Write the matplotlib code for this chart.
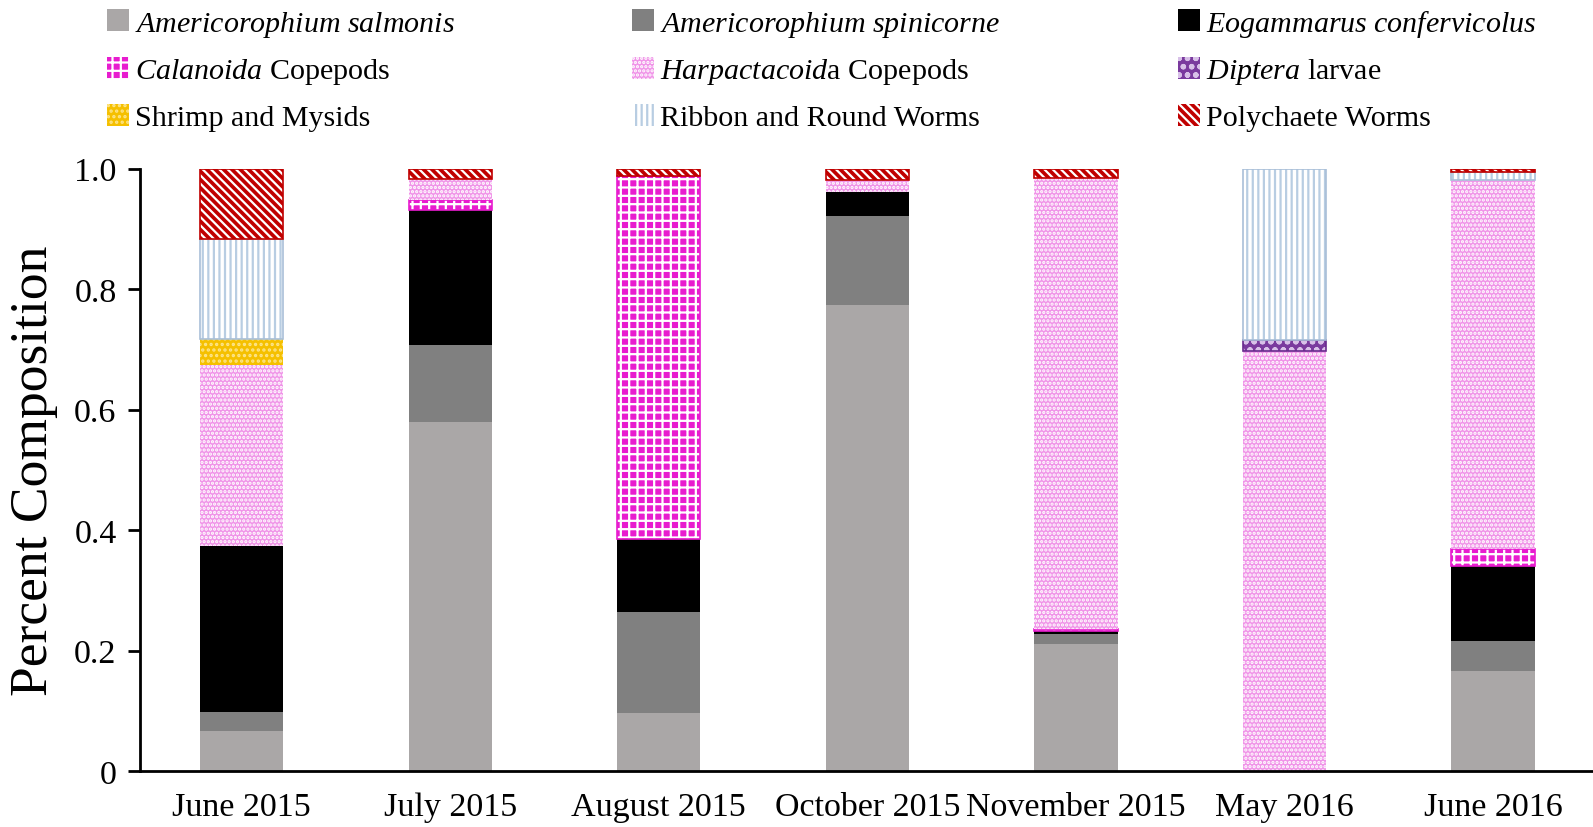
import matplotlib.pyplot as plt
import numpy as np

plt.rcParams['font.family'] = ['Liberation Serif', 'DejaVu Serif']
plt.rcParams['mathtext.fontset'] = 'custom'
plt.rcParams['mathtext.rm'] = 'Liberation Serif'
plt.rcParams['mathtext.it'] = 'Liberation Serif:italic'
plt.rcParams['hatch.linewidth'] = 1.6

# sampling months
months = ['June 2015', 'July 2015', 'August 2015', 'October 2015',
          'November 2015', 'May 2016', 'June 2016']

# fraction of diet per group, bottom of the stack first
salmonis      = [0.066, 0.580, 0.097, 0.774, 0.211, 0.000, 0.167]
spinicorne    = [0.032, 0.128, 0.167, 0.148, 0.017, 0.000, 0.049]
eogammarus    = [0.275, 0.223, 0.122, 0.039, 0.005, 0.000, 0.125]
calanoida     = [0.000, 0.017, 0.602, 0.000, 0.003, 0.000, 0.027]
harpactacoida = [0.301, 0.035, 0.000, 0.020, 0.748, 0.697, 0.614]
shrimp        = [0.044, 0.000, 0.000, 0.000, 0.000, 0.000, 0.000]
diptera       = [0.000, 0.000, 0.000, 0.000, 0.000, 0.018, 0.000]
ribbon        = [0.165, 0.000, 0.000, 0.000, 0.000, 0.285, 0.012]
polychaete    = [0.117, 0.017, 0.012, 0.019, 0.016, 0.000, 0.006]

labels = {
    'sal': r'$\mathit{Americorophium\ salmonis}$',
    'spi': r'$\mathit{Americorophium\ spinicorne}$',
    'eog': r'$\mathit{Eogammarus\ confervicolus}$',
    'cal': r'$\mathit{Calanoida}$ Copepods',
    'har': r'$\mathit{Harpactacoid}$a Copepods',
    'shr': 'Shrimp and Mysids',
    'dip': r'$\mathit{Diptera}$ larvae',
    'rib': 'Ribbon and Round Worms',
    'pol': 'Polychaete Worms',
}

# (key, values, face, hatch colour, hatch, outline)
layers = [
    ('sal', salmonis, '#aaa7a7', '#aaa7a7', None, None),
    ('spi', spinicorne, '#808080', '#808080', None, None),
    ('eog', eogammarus, '#000000', '#000000', None, None),
    ('cal', calanoida, '#e81ccf', 'white', '++', '#e81ccf'),
    ('har', harpactacoida, '#f094e8', 'white', '....', None),
    ('shr', shrimp, '#f5c000', '#fde48a', '...', None),
    ('dip', diptera, '#7a3a9e', '#d8c0e8', 'oo', '#6a2a8e'),
    ('rib', ribbon, 'white', '#b8cde2', '|||', '#a9bfd8'),
    ('pol', polychaete, '#c00000', 'white', '\\\\\\\\', '#c00000'),
]

fig = plt.figure(figsize=(15.93, 8.28), dpi=100)
ax = fig.add_axes([0.088, 0.0675, 0.912, 0.7276])

x = np.arange(len(months))
bottom = np.zeros(len(months))
handles = {}
for key, vals, face, hcol, hatch, outline in layers:
    vals = np.array(vals)
    b = ax.bar(x, vals, 0.4, bottom=bottom, color=face, edgecolor=hcol,
               hatch=hatch, linewidth=0)
    if outline is not None:
        ax.bar(x, vals, 0.4, bottom=bottom, fill=False, edgecolor=outline,
               linewidth=np.where(vals > 0, 1.2, 0))
    handles[key] = b
    bottom = bottom + vals

ax.set_xlim(-0.487, 6.48)
ax.set_ylim(0, 1.0)
ax.set_xticks(x)
ax.set_xticklabels(months, fontsize=24.5)
ax.tick_params(axis='x', length=0, pad=15)
ax.set_yticks([0, 0.2, 0.4, 0.6, 0.8, 1.0])
ax.set_yticklabels(['0', '0.2', '0.4', '0.6', '0.8', '1.0'], fontsize=24.5)
ax.tick_params(axis='y', direction='out', length=9, width=2, pad=8)
ax.set_ylabel('Percent Composition', fontsize=38.5, labelpad=12)
for s in ['top', 'right']:
    ax.spines[s].set_visible(False)
for s in ['left', 'bottom']:
    ax.spines[s].set_linewidth(2)

# legend filled column-wise, so order keys by column
order = ['sal', 'cal', 'shr', 'spi', 'har', 'rib', 'eog', 'dip', 'pol']
fig.legend([handles[k] for k in order], [labels[k] for k in order],
           ncol=3, loc='upper left', bbox_to_anchor=(0.065, 0.993),
           frameon=False, fontsize=21.6, handlelength=0.75, handleheight=0.75,
           handletextpad=0.2, columnspacing=5.9, labelspacing=0.58,
           borderpad=0.1, borderaxespad=0)

fig.savefig('out.png', dpi=100)
